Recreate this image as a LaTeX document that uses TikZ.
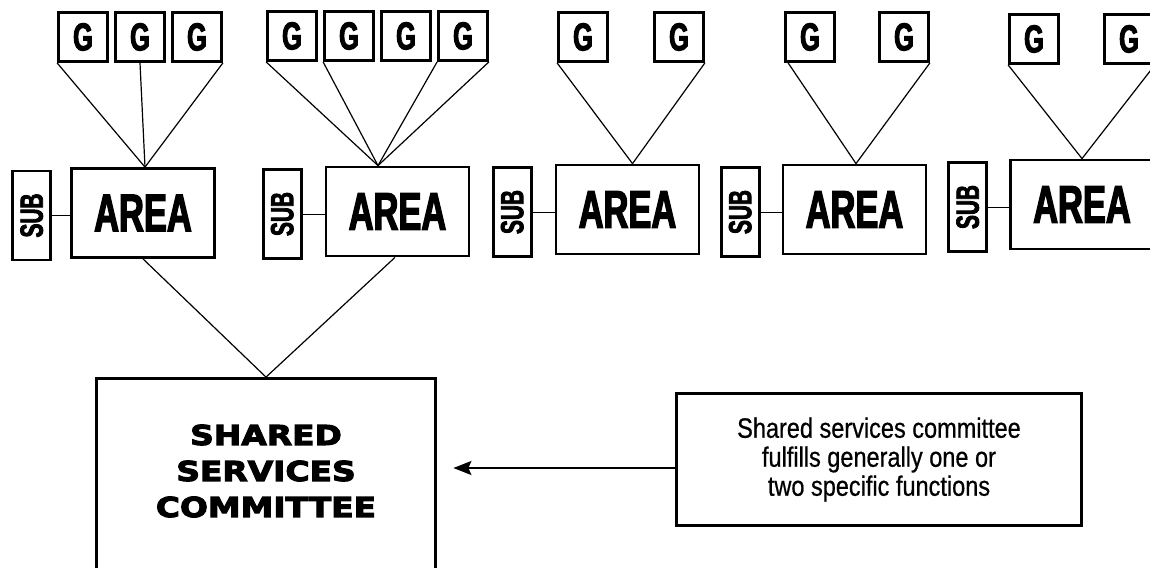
\documentclass[tikz,border=0pt]{standalone}
\usepackage{fontspec}
\usepackage{tikz}
\usetikzlibrary{arrows.meta,positioning}
\newfontfamily\condfont{Liberation Sans}[FakeStretch=0.65,BoldFeatures={FakeBold=2.5}]
\newfontfamily\notefont{Liberation Sans}[FakeStretch=0.84,FakeBold=0.6]
\newfontfamily\blackfont{DejaVu Sans}[FakeStretch=1.2,BoldFeatures={FakeBold=4}]

\tikzset{
  box/.style={draw,rectangle,line width=2.8pt,inner sep=0pt},
  gbox/.style={box,minimum width=49pt,minimum height=49pt,
    font=\condfont\bfseries\fontsize{39}{39}\selectfont},
  areabox/.style={box,minimum width=143pt,minimum height=89pt,
    font=\condfont\bfseries\fontsize{53}{53}\selectfont},
  subbox/.style={box,minimum width=38pt,minimum height=89pt,yshift=-2.5pt,
    font=\condfont\bfseries\fontsize{32}{32}\selectfont},
  sscbox/.style={box,minimum width=339pt,minimum height=221pt},
  ssctext/.style={align=center,font=\blackfont\bfseries\fontsize{27.4}{36}\selectfont},
  notebox/.style={box,line width=2.5pt,minimum width=405pt,minimum height=132pt,
    align=center,font=\notefont\fontsize{28}{29}\selectfont},
  link/.style={line width=1.2pt},
  sublink/.style={line width=1pt},
}

\begin{document}
\begin{tikzpicture}[x=1pt,y=-1pt]
      \useasboundingbox (0,0) rectangle (1150,567);
      \clip (0,0) rectangle (1150,567);

      \node[areabox] (area1) at (143,213) {AREA};
      \node[areabox] (area2) at (397.5,211.5) {AREA};
      \node[areabox] (area3) at (627.5,209.5) {AREA};
      \node[areabox] (area4) at (854.5,209.5) {AREA};
      \node[areabox] (area5) at (1082,204.5) {AREA};

      \node[subbox,left=18pt of area1] (sub1) {\rotatebox{90}{SUB}};
      \node[subbox,left=22pt of area2] (sub2) {\rotatebox{90}{SUB}};
      \node[subbox,left=22pt of area3] (sub3) {\rotatebox{90}{SUB}};
      \node[subbox,left=21pt of area4] (sub4) {\rotatebox{90}{SUB}};
      \node[subbox,left=21pt of area5] (sub5) {\rotatebox{90}{SUB}};

      \node[gbox] (g11) at (83,37) {G};
      \node[gbox,right=5.2pt of g11] (g12) {G};
      \node[gbox,right=5.2pt of g12] (g13) {G};
      \node[gbox] (g21) at (292,36) {G};
      \node[gbox,right=5.2pt of g21] (g22) {G};
      \node[gbox,right=5.2pt of g22] (g23) {G};
      \node[gbox,right=5.2pt of g23] (g24) {G};
      \node[gbox] (g31) at (583,37) {G};
      \node[gbox,right=44.2pt of g31] (g32) {G};
      \node[gbox] (g41) at (810,37) {G};
      \node[gbox,right=42.2pt of g41] (g42) {G};
      \node[gbox] (g51) at (1034,39) {G};
      \node[gbox,right=43.2pt of g51] (g52) {G};

      \node[sscbox,label={[ssctext,yshift=18pt]center:{SHARED\\SERVICES\\COMMITTEE}}] (ssc) at (266,489) {};
      \node[notebox] (note) at (879,459.5) {Shared services committee\\fulfills generally one or\\two specific functions};

      \draw[link] (g11.south west) -- ([xshift=2pt]area1.north);
      \draw[link] (g12.south) -- ([xshift=2pt]area1.north);
      \draw[link] (g13.south east) -- ([xshift=2pt]area1.north);
      \draw[link] (g21.south west) -- ([xshift=-19.5pt]area2.north);
      \draw[link] (g22.south west) -- ([xshift=-19.5pt]area2.north);
      \draw[link] (g24.south west) -- ([xshift=-19.5pt]area2.north);
      \draw[link] (g24.south east) -- ([xshift=-19.5pt]area2.north);
      \draw[link] (g31.south west) -- ([xshift=5pt]area3.north);
      \draw[link] (g32.south east) -- ([xshift=5pt]area3.north);
      \draw[link] ([xshift=4pt]g41.south west) -- ([xshift=1.5pt]area4.north);
      \draw[link] (g42.south east) -- ([xshift=1.5pt]area4.north);
      \draw[link] (g51.south west) -- (area5.north);
      \draw[link] (g52.south east) -- (area5.north);

      \draw[sublink] (sub1.east) -- (sub1.east -| area1.west);
      \draw[sublink] (sub2.east) -- (sub2.east -| area2.west);
      \draw[sublink] (sub3.east) -- (sub3.east -| area3.west);
      \draw[sublink] (sub4.east) -- (sub4.east -| area4.west);
      \draw[sublink] (sub5.east) -- (sub5.east -| area5.west);

      \draw[link] (area1.south) -- (ssc.north);
      \draw[link] ([xshift=-2.5pt]area2.south) -- (ssc.north);

      \draw[line width=2pt,-{Stealth[length=18pt,width=14pt,inset=3pt]}] ([yshift=-8.5pt]note.west) -- ([xshift=16.5pt,yshift=21pt]ssc.east);
    \end{tikzpicture}
\end{document}
